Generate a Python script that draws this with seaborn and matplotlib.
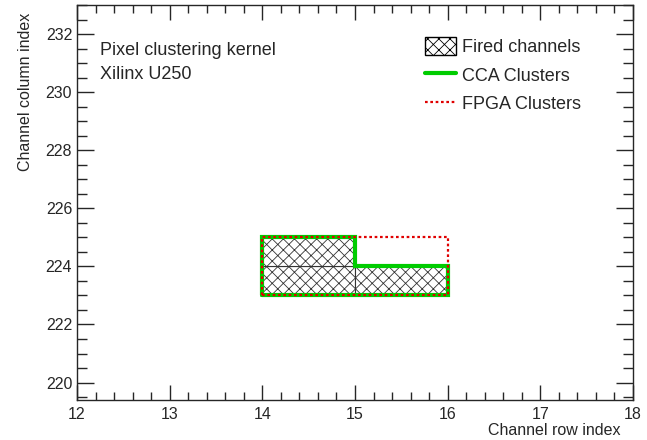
import seaborn as sns
import matplotlib.pyplot as plt
from matplotlib.patches import Patch
from matplotlib.lines import Line2D
from matplotlib.ticker import MultipleLocator

# canali accesi (riga, colonna)
fired_row = [14, 14, 15]
fired_col = [223, 224, 223]

# contorno del cluster CCA
cca_row = [14, 16, 16, 15, 15, 14, 14]
cca_col = [223, 223, 224, 224, 225, 225, 223]

# cluster FPGA (rettangolo)
fpga_row = [14, 16, 16, 14, 14]
fpga_col = [223, 223, 225, 225, 223]

sns.set_style("ticks")
plt.rcParams['font.family'] = ['Liberation Sans', 'DejaVu Sans']
plt.rcParams['hatch.linewidth'] = 0.6
plt.rcParams['hatch.color'] = '#333333'

fig = plt.figure(figsize=(6.47, 4.4), dpi=100)
ax = fig.add_axes([77/647, 40/440, 556/647, 395/440])

# celle tratteggiate
ax.bar(fired_row, [1]*len(fired_row), width=1, bottom=fired_col, align='edge',
       color='white', edgecolor='#333333', linewidth=0.8, hatch='xxx')

ax.plot(fpga_row, fpga_col, color='#e00000', linestyle=(0, (1.2, 1.2)), linewidth=1.6, zorder=3)
ax.plot(cca_row, cca_col, color='#00cc00', linewidth=3, zorder=2, solid_joinstyle='miter')

ax.set_xlim(12, 18)
ax.set_ylim(219.4, 233)
ax.xaxis.set_major_locator(MultipleLocator(1))
ax.xaxis.set_minor_locator(MultipleLocator(0.2))
ax.yaxis.set_major_locator(MultipleLocator(2))
ax.yaxis.set_minor_locator(MultipleLocator(0.5))
ax.tick_params(which='both', direction='in', top=True, right=True, labelsize=11.5, width=1)
ax.tick_params(axis='x', which='major', length=10.5, pad=5)
ax.tick_params(axis='x', which='minor', length=5.5)
ax.tick_params(axis='y', which='major', length=12.5)
ax.tick_params(axis='y', which='minor', length=7)
for s in ax.spines.values():
    s.set_linewidth(1)

ax.set_xlabel("Channel row index", fontsize=11.5)
ax.xaxis.set_label_coords(620/556 - 77/556, -0.076)
ax.xaxis.label.set_horizontalalignment('right')
ax.xaxis.label.set_verticalalignment('center')
ax.set_ylabel("Channel column index", fontsize=11.5)
ax.yaxis.set_label_coords(-0.0935, 0.98)
ax.yaxis.label.set_horizontalalignment('right')
ax.yaxis.label.set_verticalalignment('center')

ax.text(12.25, 231.45, "Pixel clustering kernel", fontsize=13, va='center')
ax.text(12.25, 230.6, "Xilinx U250", fontsize=13, va='center')

handles = [Patch(facecolor='white', edgecolor='black', hatch='xxx', linewidth=1),
           Line2D([], [], color='#00cc00', linewidth=3),
           Line2D([], [], color='#e00000', linestyle=(0, (1.2, 1.2)), linewidth=1.6)]
ax.legend(handles, ["Fired channels", "CCA Clusters", "FPGA Clusters"],
          loc='upper left', bbox_to_anchor=(0.597, 0.96), frameon=False,
          fontsize=13, handlelength=1.7, handleheight=1.15, handletextpad=0.35,
          labelspacing=0.52)

plt.savefig("out.png", dpi=100)
